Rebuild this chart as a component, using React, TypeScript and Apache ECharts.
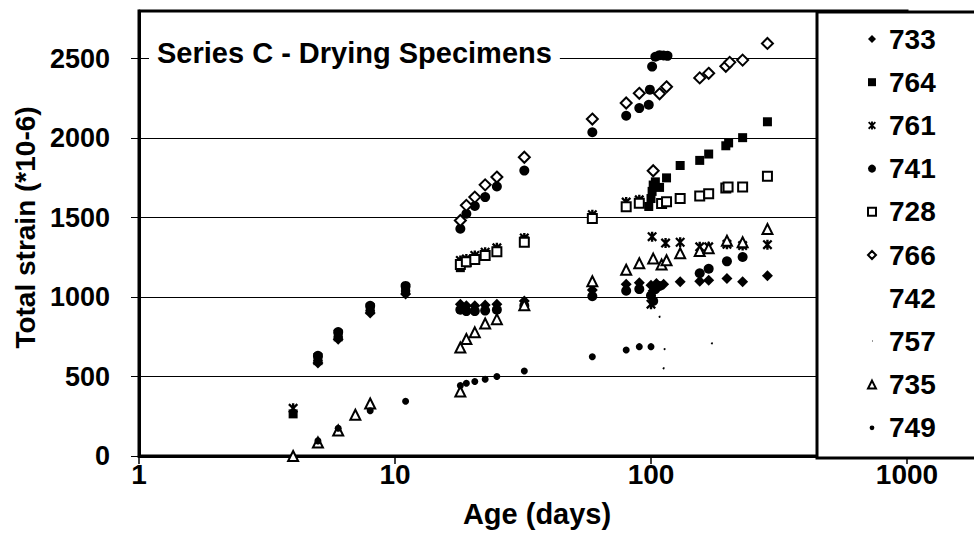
import React, { useEffect, useRef } from "react";
import * as echarts from "echarts";

type Pt = [number, number];

const seriesNames = ["733", "764", "761", "741", "728", "766", "742", "757", "735", "749"];

const d733: Pt[] = [[5, 585], [6, 735], [8, 900], [11, 1020], [18, 955], [19, 945], [20.5, 945], [22.5, 950], [25, 955], [32, 975], [59, 1045], [80, 1080], [90, 1090], [100, 1075], [102, 1040], [105, 1085], [112, 1080], [130, 1096], [155, 1100], [168, 1106], [198, 1117], [228, 1096], [285, 1134]];
const d764: Pt[] = [[4, 265], [5, 600], [6, 750], [8, 920], [11, 1045], [18, 1185], [19, 1215], [20.5, 1240], [22.5, 1265], [25, 1290], [32, 1355], [98, 1570], [100, 1620], [101, 1665], [102, 1705], [104, 1725], [108, 1690], [115, 1750], [130, 1828], [155, 1860], [168, 1900], [196, 1952], [201, 1970], [228, 2003], [285, 2103]];
const d761: Pt[] = [[4, 300], [5, 620], [6, 770], [8, 935], [11, 1060], [18, 1230], [19, 1240], [20.5, 1262], [22.5, 1282], [25, 1310], [32, 1372], [59, 1518], [80, 1598], [90, 1612], [100, 955], [101, 1380], [114, 1340], [130, 1345], [155, 1316], [168, 1316], [198, 1332], [228, 1324], [285, 1330]];
const d741: Pt[] = [[5, 630], [6, 780], [8, 945], [11, 1070], [18, 1430], [19, 1524], [20.5, 1573], [22.5, 1629], [25, 1696], [32, 1796], [59, 2037], [80, 2141], [90, 2189], [98, 2210], [99, 2305], [101, 2450], [104, 2512], [108, 2522], [112, 2520], [116, 2518]];
const d728: Pt[] = [[18, 1205], [19, 1222], [20.5, 1236], [22.5, 1262], [25, 1285], [32, 1345], [59, 1495], [80, 1568], [90, 1590], [110, 1588], [115, 1600], [130, 1620], [155, 1636], [168, 1650], [196, 1686], [200, 1692], [228, 1692], [285, 1761]];
const d766: Pt[] = [[18, 1482], [19, 1577], [20.5, 1629], [22.5, 1706], [25, 1755], [32, 1880], [59, 2120], [80, 2221], [90, 2282], [102, 1795], [108, 2279], [115, 2323], [155, 2379], [168, 2408], [196, 2452], [203, 2477], [228, 2491], [285, 2596]];
const d742: Pt[] = [[18, 920], [19, 912], [20.5, 912], [22.5, 915], [25, 920], [32, 945], [59, 1005], [80, 1040], [90, 1050], [100, 1010], [102, 975], [104, 1050], [108, 1070], [155, 1150], [168, 1178], [198, 1225], [228, 1252]];
const d757: Pt[] = [[108, 876], [112, 552], [113, 673], [173, 709]];
const d735: Pt[] = [[4, 0], [5, 85], [6, 160], [7, 260], [8, 330], [18, 406], [18, 682], [19, 736], [20.5, 778], [22.5, 834], [25, 861], [32, 949], [59, 1100], [80, 1172], [90, 1213], [102, 1242], [110, 1205], [115, 1232], [130, 1276], [155, 1290], [168, 1307], [198, 1354], [228, 1345], [285, 1428]];
const d749: Pt[] = [[5, 95], [6, 175], [8, 285], [11, 345], [18, 443], [19, 458], [20.5, 469], [22.5, 483], [25, 500], [32, 535], [59, 625], [80, 667], [90, 688], [100, 688]];

const xTickValues = [1, 10, 100, 1000];
const yTickValues = [0, 500, 1000, 1500, 2000, 2500];
const titleText = "Series C - Drying Specimens";
const xAxisName = "Age (days)";
const yAxisName = "Total strain (*10-6)";

const FONT = "'Liberation Sans', Arial, Helvetica, sans-serif";
const STAR =
  "path://M3.8,0L6.2,0L6.2,10L3.8,10Z M0,1.6L1.6,0L10,8.4L8.4,10Z M8.4,0L10,1.6L1.6,10L0,8.4Z";

export default function App() {
  const ref = useRef<HTMLDivElement>(null);
  useEffect(() => {
    const chart = echarts.init(ref.current!, null, { renderer: "svg" });
    const filled = { color: "#000", opacity: 1 };
    const open = { color: "#fff", borderColor: "#000", borderWidth: 2, opacity: 1 };
    const defs: any[] = [
      { name: "733", data: d733, symbol: "diamond", size: 11, style: filled },
      { name: "764", data: d764, symbol: "rect", size: 9, style: filled },
      { name: "761", data: d761, symbol: STAR, size: 10, style: filled },
      { name: "741", data: d741, symbol: "circle", size: 10, style: filled },
      { name: "728", data: d728, symbol: "rect", size: 9, style: open },
      { name: "766", data: d766, symbol: "diamond", size: 11, style: open },
      { name: "742", data: d742, symbol: "circle", size: 10, style: filled },
      { name: "757", data: d757, symbol: "circle", size: 2, style: filled },
      { name: "735", data: d735, symbol: "triangle", size: 10, style: open },
      { name: "749", data: d749, symbol: "circle", size: 7, style: filled },
    ];
    const legendIcon = (n: string) => {
      if (n === "742") return { name: n, icon: "path://M0,0M10,10" };
      if (n === "757") return { name: n, icon: "path://M0,0M10,10M5,4L6,4L6,5L5,5Z" };
      if (n === "749") return { name: n, icon: "path://M0,0M10,10M5,2A3,3,0,1,1,5,8A3,3,0,1,1,5,2Z" };
      return { name: n };
    };
    chart.setOption({
      animation: false,
      backgroundColor: "#fff",
      textStyle: { fontFamily: FONT },
      title: {
        text: titleText,
        left: 149,
        top: 36,
        padding: [2, 8],
        backgroundColor: "#fff",
        textStyle: { fontFamily: FONT, fontWeight: "bold", fontSize: 29, color: "#000", lineHeight: 30 },
        z: 8,
      },
      grid: {
        left: 139,
        right: 67,
        top: 11,
        bottom: 75,
        show: true,
        borderColor: "#000",
        borderWidth: 3,
        backgroundColor: "#fff",
      },
      xAxis: {
        type: "log",
        logBase: 10,
        min: xTickValues[0],
        max: xTickValues[xTickValues.length - 1],
        name: xAxisName,
        nameLocation: "middle",
        nameGap: 43,
        nameTextStyle: { fontFamily: FONT, fontWeight: "bold", fontSize: 29, color: "#000", padding: [0, 0, 0, 28] },
        axisLine: { show: true, lineStyle: { color: "#000", width: 3 } },
        axisTick: { show: true, length: 8, lineStyle: { color: "#000", width: 1.5 } },
        minorTick: { show: false },
        splitLine: { show: false },
        axisLabel: {
          margin: 5,
          fontFamily: FONT,
          fontWeight: "bold",
          fontSize: 28,
          lineHeight: 26,
          color: "#000",
          formatter: (v: number) => String(Math.round(v)),
        },
      },
      yAxis: {
        type: "value",
        min: yTickValues[0],
        max: 2800,
        interval: 500,
        name: yAxisName,
        nameLocation: "middle",
        nameGap: 97,
        nameTextStyle: { fontFamily: FONT, fontWeight: "bold", fontSize: 28, color: "#000", padding: [0, 0, 0, 12] },
        axisLine: { show: true, lineStyle: { color: "#000", width: 3 } },
        axisTick: { show: true, length: 8, lineStyle: { color: "#000", width: 1 } },
        splitLine: { show: true, lineStyle: { color: "#000", width: 1.2 } },
        axisLabel: {
          margin: 29,
          showMaxLabel: false,
          fontFamily: FONT,
          fontWeight: "bold",
          fontSize: 27,
          color: "#000",
          formatter: (v: number) => (yTickValues.includes(v) ? String(v) : ""),
        },
      },
      legend: {
        orient: "vertical",
        left: 867,
        top: 25,
        padding: 0,
        itemWidth: 8,
        itemHeight: 8,
        itemGap: 15.2,
        selectedMode: false,
        z: 20,
        textStyle: {
          fontFamily: FONT,
          fontWeight: "bold",
          fontSize: 28,
          lineHeight: 28,
          color: "#000",
          padding: [0, 0, 0, 8],
        },
        data: seriesNames.map(legendIcon),
      },
      graphic: [
        {
          type: "rect",
          z: 10,
          shape: { x: 817, y: 12, width: 200, height: 446 },
          style: { fill: "#fff", stroke: "#000", lineWidth: 3 },
        },
      ],
      series: defs.map((d) => ({
        type: "scatter",
        name: d.name,
        data: d.data,
        symbol: d.symbol,
        symbolSize: d.size,
        itemStyle: d.style,
        emphasis: { disabled: true },
      })),
    });
    return () => chart.dispose();
  }, []);
  return <div ref={ref} style={{ position: "fixed", left: 0, top: 0, width: 974, height: 533 }} />;
}
